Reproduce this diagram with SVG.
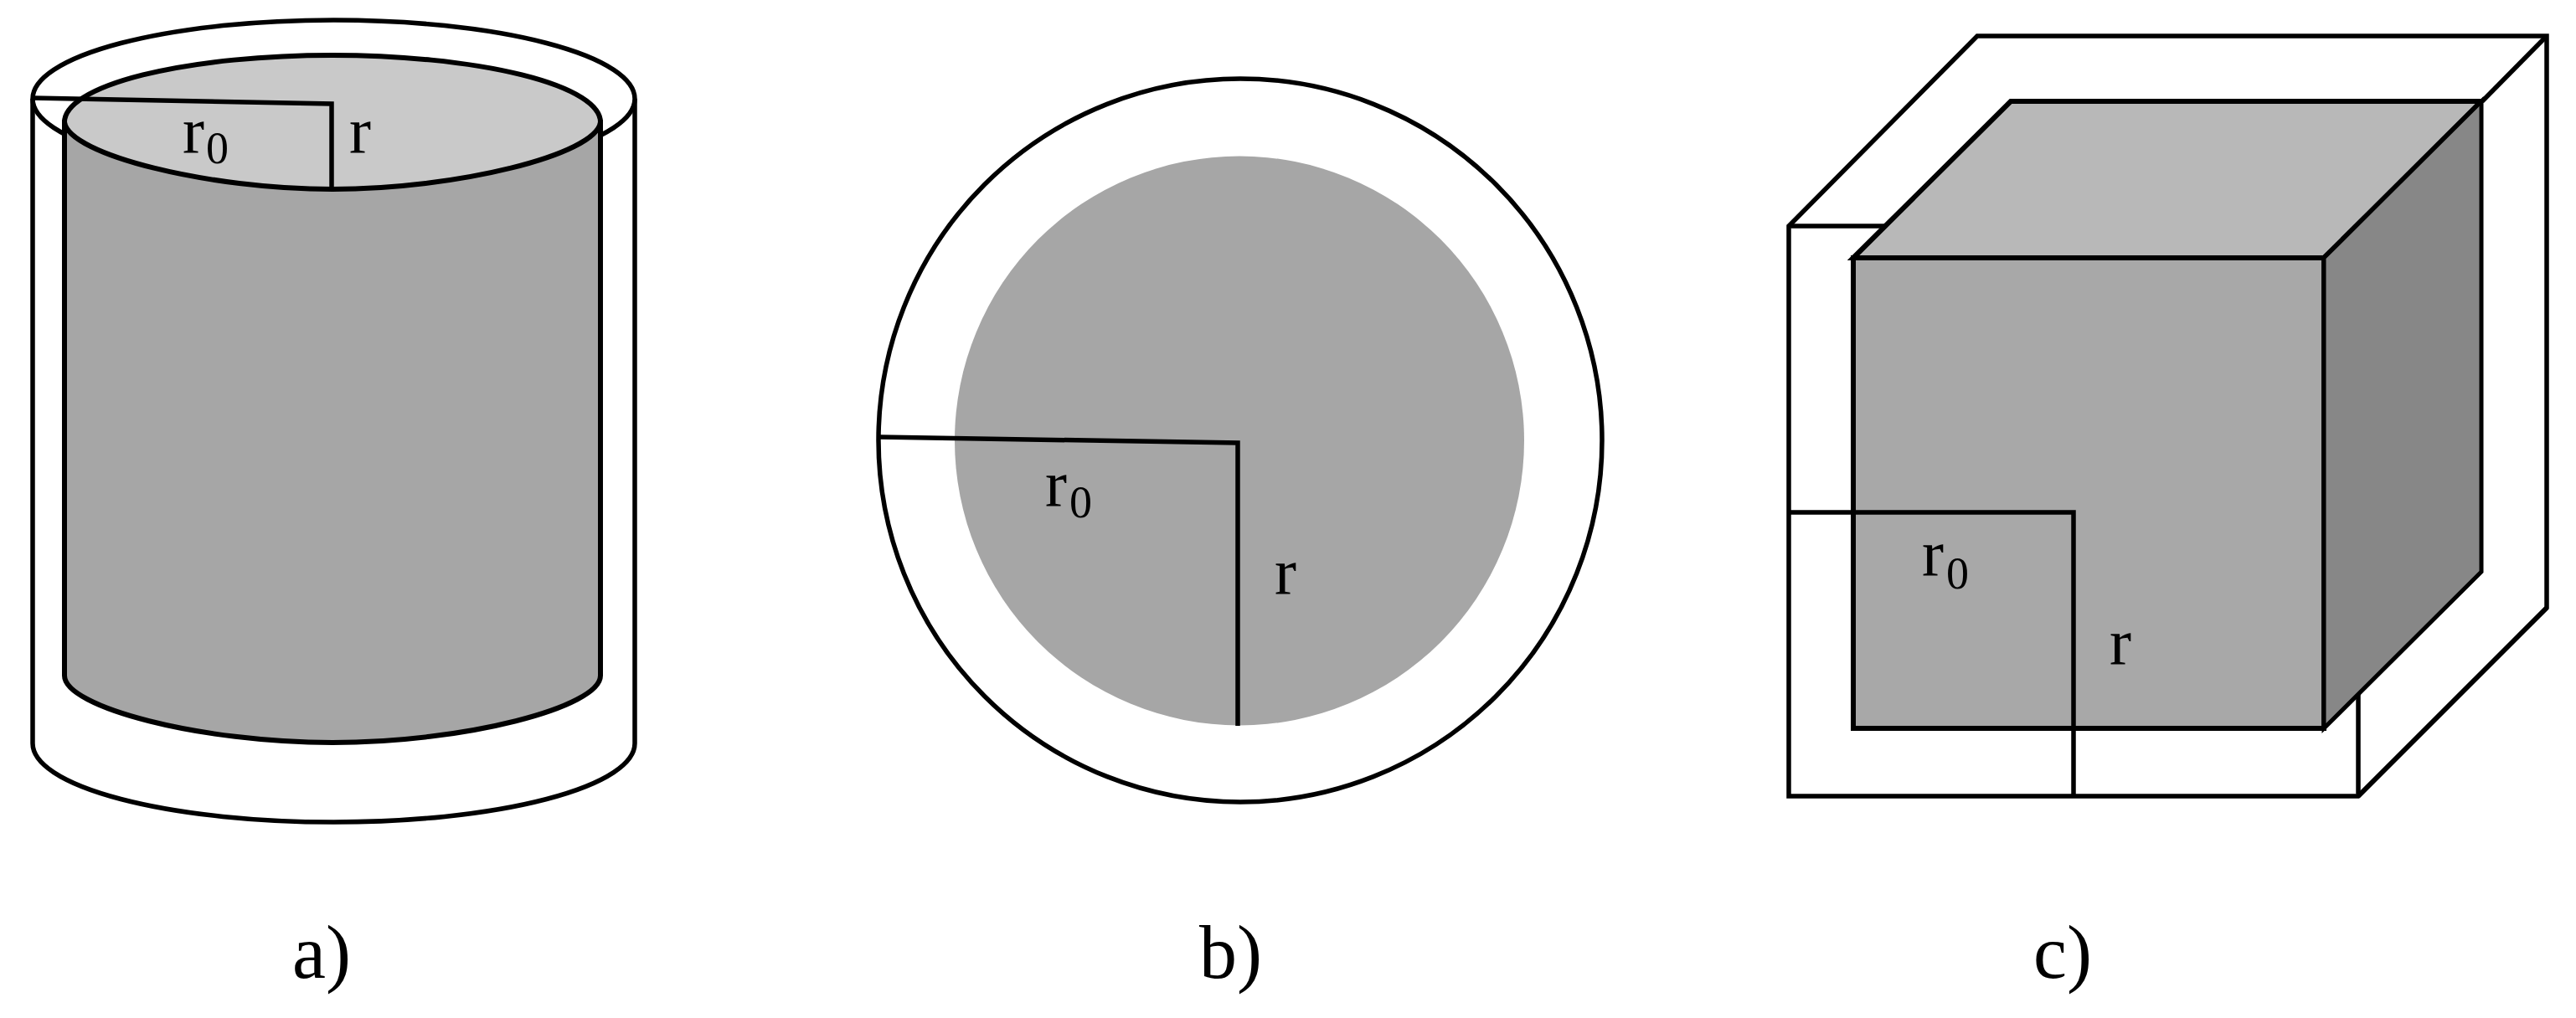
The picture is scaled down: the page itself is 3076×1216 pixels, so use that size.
<svg xmlns="http://www.w3.org/2000/svg" width="3076" height="1216" viewBox="0 0 3076 1216">
<style>
.o{fill:none;stroke:#000;stroke-width:5.500;stroke-linejoin:miter}
.w{fill:#fff;stroke:#000;stroke-width:5.500}
.i{stroke:#000;stroke-width:6;stroke-linejoin:miter}
.body{fill:#a6a6a6}
.top{fill:#c9c9c9}
.ctop{fill:#b8b8b8}
.side{fill:#878787}
.r{fill:none;stroke:#000;stroke-width:5.500;stroke-linejoin:miter}
text{font-family:"Liberation Serif","Times New Roman",serif;fill:#000}
.v{font-size:78px}
.s{font-size:54px}
.l{font-size:90px}
</style>
<rect width="3076" height="1216" fill="#fff"/>
<g id="cylinder-a">
<path class="w" d="M39 118V888A359.5 94 0 0 0 758 888V118"/>
<ellipse class="w" cx="398.5" cy="118" rx="359.5" ry="94"/>
<path class="i body" d="M77 146V807C77 845 240 887 397 887C554 887 717 845 717 807V146Z"/>
<path class="i top" d="M77 146A320 80 0 0 1 717 146C712 185 544 226 397 226C250 226 82 185 77 146Z"/>
<text class="v" x="218" y="182">r</text><text class="s" x="246" y="195">0</text>
<text class="v" x="417" y="182">r</text>
</g>
<g id="circle-b">
<circle cx="1481" cy="526" r="432" fill="#fff" stroke="#000" stroke-width="5.500"/>
<circle class="body" cx="1480" cy="526.500" r="340"/>
<text class="v" x="1248" y="604">r</text><text class="s" x="1277" y="618">0</text>
<text class="v" x="1522" y="709">r</text>
</g>
<g id="cube-c">
<path class="w" d="M2136 270L2361 43H3041V726L2816 951H2136Z"/>
<path class="w" d="M2136 270H2816V951"/>
<path class="w" d="M2816 951L3041 726"/>
<path class="i" style="fill:#a8a8a8" d="M2213 308H2775V870H2213Z"/>
<path class="i ctop" d="M2213 308L2401 121H2963L2775 308Z"/>
<path class="i side" style="stroke-width:5" d="M2775 308L2963 121V683L2775 870Z"/>
<path d="M2964 121L3041 43" class="o"/>
<text class="v" x="2295" y="687">r</text><text class="s" x="2324" y="703">0</text>
<text class="v" x="2519" y="793">r</text>
</g>
<g id="connectors">
<path class="r" d="M39 117L396 124V226"/>
<path class="r" d="M1050 522L1478 529V867"/>
<path class="r" d="M2136 612H2476V951"/>
</g>
<g id="labels">
<text class="l" x="349" y="1168">a)</text>
<text class="l" x="1432" y="1168">b)</text>
<text class="l" x="2428" y="1168">c)</text>
</g>
</svg>
